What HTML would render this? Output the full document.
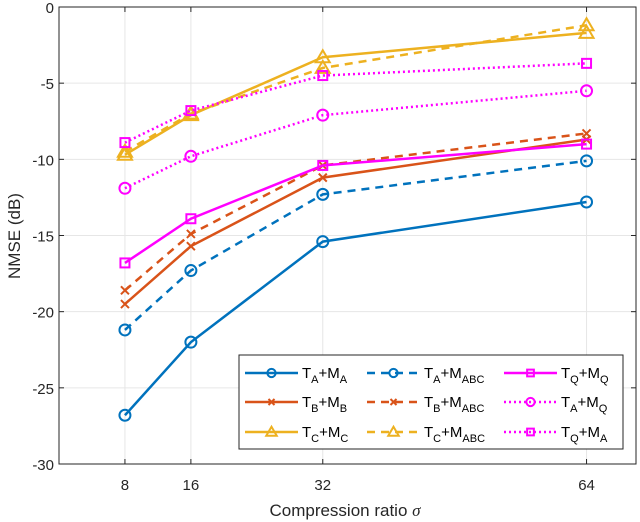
<!DOCTYPE html>
<html><head><meta charset="utf-8"><style>
body{margin:0;background:#fff}
svg{display:block;font-family:"Liberation Sans",sans-serif}
</style></head><body>
<svg id="chart" width="640" height="522" viewBox="0 0 640 522" xmlns="http://www.w3.org/2000/svg">
<g id="grid"></g>
<g id="series"></g>
<g id="axes"></g>
<g id="legend"></g>
<text x="345" y="516" font-size="17" text-anchor="middle" fill="#262626">Compression ratio <tspan font-family="Liberation Serif" font-style="italic">σ</tspan></text>
<text transform="translate(20,236) rotate(-90)" font-size="17" text-anchor="middle" fill="#262626">NMSE (dB)</text>
</svg>
<script>
const categories=[8,16,32,64];
const yTicks=[0,-5,-10,-15,-20,-25,-30];
const sTAMA=[-26.8,-22.0,-15.4,-12.8];
const sTAMABC=[-21.2,-17.3,-12.3,-10.1];
const sTBMB=[-19.5,-15.7,-11.2,-8.7];
const sTBMABC=[-18.6,-14.9,-10.4,-8.3];
const sTCMC=[-9.7,-7.1,-3.3,-1.7];
const sTCMABC=[-9.5,-7.0,-4.0,-1.2];
const sTQMQ=[-16.8,-13.9,-10.4,-9.0];
const sTAMQ=[-11.9,-9.8,-7.1,-5.5];
const sTQMA=[-8.9,-6.8,-4.5,-3.7];
const L=59,R=636,T=7,B=464;
const x=v=>L+(v-0)/(70-0)*(R-L);
const y=v=>T+(0-v)/30*(B-T);
const NS="http://www.w3.org/2000/svg";
function mk(tag,attrs,parent){const e=document.createElementNS(NS,tag);for(const k in attrs)e.setAttribute(k,attrs[k]);parent.appendChild(e);return e;}
const grid=document.getElementById('grid'),axes=document.getElementById('axes'),ser=document.getElementById('series'),leg=document.getElementById('legend');
mk('rect',{x:L,y:T,width:R-L,height:B-T,fill:'#fff'},grid);
categories.forEach(c=>{const l=mk('line',{x1:x(c),x2:x(c),y1:T,y2:B,stroke:'#e6e6e6','stroke-width':1},grid);

const t=mk('text',{x:x(c),y:B+26,'font-size':15,'text-anchor':'middle',fill:'#262626'},axes);t.textContent=c;

mk('line',{x1:x(c),x2:x(c),y1:B,y2:B-5,stroke:'#262626'},axes);mk('line',{x1:x(c),x2:x(c),y1:T,y2:T+5,stroke:'#262626'},axes);});
yTicks.forEach(v=>{const l=mk('line',{x1:L,x2:R,y1:y(v),y2:y(v),stroke:'#e6e6e6'},grid);

const t=mk('text',{x:L-5,y:y(v)+6,'font-size':15,'text-anchor':'end',fill:'#262626'},axes);t.textContent=v;

mk('line',{x1:L,x2:L+5,y1:y(v),y2:y(v),stroke:'#262626'},axes);mk('line',{x1:R,x2:R-5,y1:y(v),y2:y(v),stroke:'#262626'},axes);});
mk('rect',{x:L,y:T,width:R-L,height:B-T,fill:'none',stroke:'#262626','stroke-width':1},axes);
const blue='#0072BD',orange='#D95319',yellow='#EDB120',mag='#FF00FF';
const series=[
 {d:sTAMA,c:blue,dash:'',m:'o',n:'T_A+M_A'},
 {d:sTAMABC,c:blue,dash:'8,6',m:'o',n:'T_A+M_ABC'},
 {d:sTQMQ,c:mag,dash:'',m:'s',n:'T_Q+M_Q'},
 {d:sTBMB,c:orange,dash:'',m:'x',n:'T_B+M_B'},
 {d:sTBMABC,c:orange,dash:'8,6',m:'x',n:'T_B+M_ABC'},
 {d:sTAMQ,c:mag,dash:'2,3',m:'o',n:'T_A+M_Q'},
 {d:sTCMC,c:yellow,dash:'',m:'t',n:'T_C+M_C'},
 {d:sTCMABC,c:yellow,dash:'8,6',m:'t',n:'T_C+M_ABC'},
 {d:sTQMA,c:mag,dash:'2,3',m:'s',n:'T_Q+M_A'}];
function marker(type,cx,cy,c,p,k){k=k||1;
 if(type==='o')return mk('circle',{cx,cy,r:5.5*k,fill:'none',stroke:c,'stroke-width':2},p);
 if(type==='s')return mk('rect',{x:cx-4.5*k,y:cy-4.5*k,width:9*k,height:9*k,fill:'none',stroke:c,'stroke-width':2},p);
 if(type==='x')return mk('path',{d:`M${cx-4*k},${cy-4*k}L${cx+4*k},${cy+4*k}M${cx-4*k},${cy+4*k}L${cx+4*k},${cy-4*k}`,stroke:c,'stroke-width':2},p);
 return mk('path',{d:`M${cx},${cy-7*k}L${cx+7*k},${cy+5*k}L${cx-7*k},${cy+5*k}Z`,fill:'none',stroke:c,'stroke-width':2},p);
}
const order=[0,1,3,4,6,7,2,5,8];
order.forEach(i=>{const s=series[i];const g=mk('g',{},ser);
 
 
 mk('polyline',{points:s.d.map((v,j)=>x(categories[j])+','+y(v)).join(' '),fill:'none',stroke:s.c,'stroke-width':2.5,'stroke-dasharray':s.dash},g);
 s.d.forEach((v,j)=>{const m=marker(s.m,x(categories[j]),y(v),s.c,g);
 });
});
mk('rect',{x:239,y:355,width:384,height:94,fill:'#fff',stroke:'#262626'},leg);
const cols=[[245,298,302],[367,420,424],[504,557,561]],rows=[373,402,432];
series.forEach((s,i)=>{const col=cols[i%3],ry=rows[Math.floor(i/3)];
 const g=mk('g',{},leg);
 
 
 mk('line',{x1:col[0],x2:col[1],y1:ry,y2:ry,stroke:s.c,'stroke-width':2.5,'stroke-dasharray':s.dash},g);
 marker(s.m,(col[0]+col[1])/2,ry,s.c,g,0.75);
 const [a,b]=s.n.split('+');const t=mk('text',{x:col[2],y:ry+5,'font-size':15,fill:'#000'},g);
 t.innerHTML=`T<tspan dy="5" font-size="11">${a.split('_')[1]}</tspan><tspan dy="-5">+M</tspan><tspan dy="5" font-size="11">${b.split('_')[1]}</tspan>`;
});
</script>
</body></html>
